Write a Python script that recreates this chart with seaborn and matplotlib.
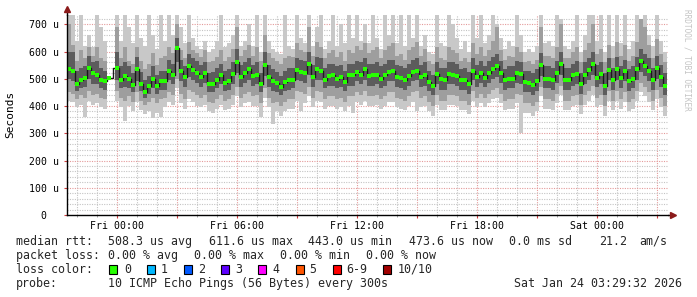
import numpy as np
import matplotlib
matplotlib.use("Agg")
import matplotlib.pyplot as plt
import seaborn as sns
from matplotlib.ticker import MultipleLocator, FuncFormatter
from matplotlib.patches import Rectangle

nan = np.nan

# ---------------- data (12-minute slots, Thu 21:30 -> Sat 03:30) ----------------
start_hour = -2.5      # hours relative to Fri 00:00
step_hours = 0.2

med = [537,528,480,495,502,540,520,515,497,490,501,nan,540,497,510,500,476,535,482,450,473,500,473,490,490,
       530,515,612,528,505,546,533,522,505,520,480,480,497,515,485,490,516,560,505,520,535,510,515,479,550,
       508,491,483,471,488,495,497,531,525,520,555,507,535,530,497,510,512,500,508,488,513,512,524,515,534,
       510,512,514,500,512,526,528,506,502,497,510,525,530,506,514,487,472,518,498,497,517,515,510,494,497,
       480,530,506,522,504,522,535,545,520,494,500,500,522,519,487,485,476,490,549,500,500,497,522,553,495,
       494,512,518,479,515,533,556,504,518,475,532,495,535,502,528,490,500,535,565,548,530,497,540,505,475]

dark_lo = [500,490,455,465,470,500,480,480,465,460,470,nan,495,465,470,465,450,490,455,430,445,465,445,460,460,
           495,480,560,490,470,505,495,485,470,485,450,450,465,480,455,460,480,520,470,485,495,475,480,450,510,
           470,455,450,440,455,460,465,495,490,485,515,470,495,495,465,475,475,465,470,455,475,475,490,480,495,
           475,475,480,465,475,490,490,470,465,460,475,490,495,470,475,455,440,480,460,460,480,480,475,460,460,
           445,495,470,485,470,485,500,505,485,460,465,465,485,480,450,450,440,455,510,465,465,460,485,515,460,
           460,475,480,445,480,495,515,470,480,440,495,460,495,465,490,455,465,495,525,510,490,460,500,470,440]
dark_hi = [600,600,530,540,545,585,560,565,540,530,535,nan,600,545,560,545,520,580,525,495,510,545,515,530,530,
           570,555,650,570,545,590,575,565,550,560,520,525,540,555,530,535,560,610,550,560,575,550,560,520,600,
           550,535,525,510,530,540,540,575,570,565,600,550,580,575,540,555,555,545,550,530,555,555,565,560,575,
           555,555,560,545,555,570,570,550,545,540,555,570,575,550,560,530,515,560,540,540,560,560,555,535,540,
           525,575,550,565,545,565,580,590,565,535,545,545,565,560,530,530,520,535,595,545,545,540,565,600,540,
           540,555,565,520,560,575,600,550,560,520,575,540,580,545,570,535,545,580,610,590,575,540,585,550,520]

mid_lo = [450,445,425,440,430,455,440,445,430,425,440,nan,455,430,420,435,415,450,420,405,415,430,410,425,430,
          450,440,500,445,425,460,450,440,430,440,415,410,425,440,420,425,440,470,430,445,450,435,440,410,465,
          430,410,415,400,415,425,425,455,450,445,470,430,455,450,425,435,435,425,430,415,435,435,450,440,455,
          435,435,440,425,435,450,450,430,425,420,435,450,455,430,435,415,400,440,420,420,440,440,435,420,420,
          405,455,430,445,430,445,460,465,445,420,425,425,445,440,410,410,400,415,470,425,425,420,445,475,420,
          420,435,440,405,440,455,475,430,440,400,455,420,455,425,450,415,425,455,485,470,450,420,460,430,400]
mid_hi = [700,625,565,605,575,615,585,615,575,565,575,nan,690,575,615,565,555,615,565,535,555,595,550,575,585,
          615,595,700,605,575,635,605,595,580,605,560,565,580,605,565,580,610,690,585,605,625,585,615,565,660,
          595,575,565,555,575,585,580,630,605,600,690,585,635,615,575,595,605,580,600,565,605,595,620,605,630,
          595,605,615,575,605,620,630,585,590,570,605,615,635,585,610,565,555,615,575,570,615,605,595,565,575,
          560,630,590,615,585,605,640,690,605,570,585,580,615,600,560,565,555,570,690,585,585,575,615,700,575,
          575,600,615,560,605,630,700,590,610,560,625,575,635,585,625,565,585,635,720,690,625,575,645,590,560]

light_lo = [420,415,395,405,360,420,405,410,395,390,405,nan,420,395,345,400,380,415,385,370,380,355,375,360,395,
            415,405,465,410,390,425,415,400,395,405,380,375,390,405,385,390,405,435,395,410,415,400,400,360,430,
            395,335,380,365,380,390,390,420,380,410,435,395,420,415,390,400,400,390,395,380,400,375,415,405,420,
            400,400,405,390,400,415,415,395,390,385,400,415,380,395,400,380,365,405,385,385,405,405,400,385,385,
            370,420,395,410,395,410,425,430,410,385,390,390,410,300,375,375,365,380,435,390,390,385,410,440,385,
            385,400,405,370,405,420,440,395,405,365,420,385,420,390,415,380,390,420,450,435,415,385,425,395,365]
light_hi = [748,748,640,748,620,660,615,748,690,640,610,nan,748,640,748,690,630,748,650,620,748,660,610,748,640,
            748,660,748,690,630,748,650,620,610,640,600,610,640,748,615,630,660,748,620,640,700,620,748,600,748,
            640,610,600,590,748,620,610,748,650,630,748,620,690,748,610,640,748,620,700,630,748,650,748,640,700,
            630,748,650,610,748,660,748,630,748,620,748,650,748,620,660,600,590,748,630,620,748,700,650,610,640,
            600,748,650,748,630,660,748,700,650,610,640,620,748,660,600,610,600,620,748,630,640,620,748,720,620,
            610,640,748,600,660,748,748,640,748,600,748,620,748,630,748,610,640,748,700,748,660,620,748,640,600]

xtick_hours = [0, 6, 12, 18, 24]
xtick_labels = ["Fri 00:00", "Fri 06:00", "Fri 12:00", "Fri 18:00", "Sat 00:00"]
ytick_values = [0, 100, 200, 300, 400, 500, 600, 700]
ytick_labels = ["0  ", "100 u", "200 u", "300 u", "400 u", "500 u", "600 u", "700 u"]

rtt_stats = ["508.3 us avg", "611.6 us max", "443.0 us min", "473.6 us now", "0.0 ms sd", "21.2", "am/s"]
loss_stats = ["0.00 % avg", "0.00 % max", "0.00 % min", "0.00 % now"]
loss_labels = ["0", "1", "2", "3", "4", "5", "6-9", "10/10"]
loss_colors = ["#26ff00", "#00b8ff", "#0059ff", "#5e00ff", "#ff00ff", "#ff5500", "#ff0000", "#a10000"]
probe_text = "10 ICMP Echo Pings (56 Bytes) every 300s"
stamp_text = "Sat Jan 24 03:29:32 2026"

# ---------------- figure ----------------
sns.set_theme(style="white")
plt.rcParams['font.family'] = ['DejaVu Sans Mono', 'DejaVu Sans']

W, H = 697, 297
fig = plt.figure(figsize=(W / 100, H / 100), dpi=100)
fig.patch.set_facecolor("white")
ax = fig.add_axes([67 / W, 1 - 215 / H, 601 / W, 200 / H])
ax.set_facecolor("white")

n = len(med)
edges = start_hour + step_hours * np.arange(n + 1)
centers = edges[:-1] + step_hours / 2


def ext(a):
    a = np.asarray(a, dtype=float)
    return np.append(a, a[-1])


ax.fill_between(edges, ext(light_lo), ext(light_hi), step="post", color="#c8c8c8", lw=0, zorder=1.0)
ax.fill_between(edges, ext(mid_lo), ext(mid_hi), step="post", color="#9e9e9e", lw=0, zorder=1.1)
ax.fill_between(edges, ext(dark_lo), ext(dark_hi), step="post", color="#5c5c5c", lw=0, zorder=1.2)

sns.lineplot(x=centers, y=med, drawstyle="steps-mid", color="#1a1a1a", lw=1.0, ax=ax, zorder=4)
sns.scatterplot(x=centers, y=med, marker="s", s=6.5, color="#26ff00", linewidth=0, ax=ax, zorder=5)

ax.set_xlim(-2.5, 27.55)
ax.set_ylim(0, 734)

# grid (drawn below the smoke, as rrdtool does)
ax.xaxis.set_major_locator(MultipleLocator(3))
ax.xaxis.set_minor_locator(MultipleLocator(1))
ax.yaxis.set_major_locator(MultipleLocator(100))
ax.yaxis.set_minor_locator(MultipleLocator(20))
ax.set_axisbelow(True)
ax.grid(which="major", color="#e49a9a", linestyle=(0, (1, 1.2)), lw=0.8)
ax.grid(which="minor", color="#c4c4c4", linestyle=(0, (1, 1.2)), lw=0.8)

xlab = dict(zip(xtick_hours, xtick_labels))
ax.xaxis.set_major_formatter(FuncFormatter(lambda v, p: xlab.get(int(round(v)), "")))
ylab = dict(zip(ytick_values, ytick_labels))
ax.yaxis.set_major_formatter(FuncFormatter(lambda v, p: ylab.get(int(round(v)), "")))

ax.tick_params(axis="x", which="major", length=2.5, width=0.8, color="#d04040", pad=1.5,
               labelsize=7.1, labelcolor="black", bottom=True)
ax.tick_params(axis="x", which="minor", length=1.5, width=0.6, color="#999999", bottom=True)
ax.tick_params(axis="y", which="major", length=2, width=0.8, color="#d04040", pad=3.8,
               labelsize=7.1, labelcolor="black", left=True)
ax.tick_params(axis="y", which="minor", length=0)

for s in ["top", "right"]:
    ax.spines[s].set_visible(False)
for s in ["left", "bottom"]:
    ax.spines[s].set_color("black")
    ax.spines[s].set_linewidth(1.0)
    ax.spines[s].set_zorder(6)
ax.set_xlabel("")
ax.set_ylabel("")

# axis extensions and arrows
ax.plot([0, 0], [1.0, 1.02], transform=ax.transAxes, color="black", lw=1, clip_on=False, zorder=6)
ax.plot([0], [1.03], marker="^", markersize=4.2, color="#8b1a1a", transform=ax.transAxes,
        clip_on=False, zorder=7)
ax.plot([1.0, 1.004], [0, 0], transform=ax.transAxes, color="black", lw=1, clip_on=False, zorder=6)
ax.plot([1.0075], [0], marker=">", markersize=4.2, color="#8b1a1a", transform=ax.transAxes,
        clip_on=False, zorder=7)


def ftext(x, y, s, **kw):
    fig.text(x / W, 1 - y / H, s, **kw)


ftext(10.7, 114, "Seconds", rotation=90, ha="center", va="center", fontsize=8, color="black")
ftext(686.5, 60, "RRDTOOL / TOBI OETIKER", rotation=270, ha="center", va="center",
      fontsize=5.6, color="#c4c4c4")

fs = 8.4
row_y = [241.5, 255.5, 269.5, 283.5]
ftext(16, row_y[0], "median rtt:", ha="left", va="center", fontsize=fs)
for xx, s in zip([108, 208.7, 308.5, 409, 509, 599, 639], rtt_stats):
    ftext(xx, row_y[0], s, ha="left", va="center", fontsize=fs)
ftext(16, row_y[1], "packet loss:", ha="left", va="center", fontsize=fs)
for xx, s in zip([108, 194, 280.5, 366], loss_stats):
    ftext(xx, row_y[1], s, ha="left", va="center", fontsize=fs)
ftext(16, row_y[2], "loss color:", ha="left", va="center", fontsize=fs)
box_x = [109, 146.5, 184, 221, 258, 296, 332.5, 383]
lab_x = [124, 161, 198, 235.5, 272.5, 309.5, 346.5, 397.5]
for bx, lx, c, s in zip(box_x, lab_x, loss_colors, loss_labels):
    fig.patches.append(Rectangle((bx / W, 1 - 273.5 / H), 8 / W, 8.5 / H, transform=fig.transFigure,
                                 facecolor=c, edgecolor="black", lw=0.8, figure=fig))
    ftext(lx, row_y[2], s, ha="left", va="center", fontsize=fs)
ftext(16, row_y[3], "probe:", ha="left", va="center", fontsize=fs)
ftext(108, row_y[3], probe_text, ha="left", va="center", fontsize=fs)
ftext(682, row_y[3], stamp_text, ha="right", va="center", fontsize=fs)

fig.savefig("out.png", dpi=100, facecolor="white")
